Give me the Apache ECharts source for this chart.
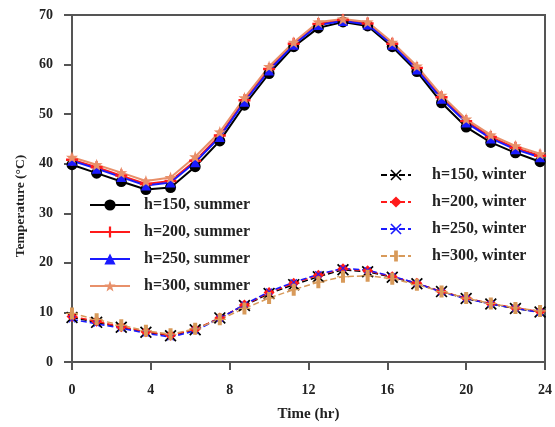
<!DOCTYPE html>
<html>
<head>
<meta charset="utf-8">
<script src="https://cdn.jsdelivr.net/npm/echarts@6/dist/echarts.min.js"></script>
<style>
  html, body { margin: 0; padding: 0; background: #fff; }
  #chart { width: 555px; height: 427px; }
</style>
</head>
<body>
<div id="chart"></div>
<script>
  const hours = [0, 1.25, 2.5, 3.75, 5, 6.25, 7.5, 8.75, 10, 11.25, 12.5, 13.75, 15, 16.25, 17.5, 18.75, 20, 21.25, 22.5, 23.75];

  const summer150 = [39.8, 38.1, 36.4, 34.8, 35.2, 39.4, 44.6, 51.8, 58.2, 63.6, 67.4, 68.6, 67.8, 63.6, 58.6, 52.3, 47.4, 44.3, 42.2, 40.4];
  const summer200 = [40.8, 39.3, 37.6, 35.9, 36.5, 40.6, 45.7, 52.8, 59.1, 64.2, 68.2, 69.0, 68.3, 64.2, 59.3, 53.4, 48.6, 45.4, 43.2, 41.6];
  const summer250 = [40.6, 39.0, 37.3, 35.6, 36.2, 40.3, 45.4, 52.5, 58.8, 64.0, 68.0, 68.8, 68.1, 64.0, 59.0, 53.1, 48.3, 45.1, 42.9, 41.3];
  const summer300 = [41.3, 39.8, 38.2, 36.5, 37.2, 41.4, 46.4, 53.3, 59.6, 64.5, 68.6, 69.2, 68.6, 64.5, 59.7, 53.8, 49.0, 45.8, 43.6, 42.0];

  const winter150 = [9.0, 8.0, 7.0, 6.0, 5.3, 6.5, 8.9, 11.4, 13.8, 15.6, 17.2, 18.6, 18.2, 17.1, 15.8, 14.2, 12.8, 11.7, 10.8, 10.1];
  const winter200 = [9.2, 8.2, 7.1, 6.1, 5.4, 6.6, 8.9, 11.5, 14.0, 15.9, 17.5, 18.8, 18.4, 17.2, 15.9, 14.2, 12.9, 11.8, 10.9, 10.2];
  const winter250 = [8.6, 7.7, 6.8, 5.8, 5.0, 6.3, 8.8, 11.6, 14.2, 16.1, 17.7, 18.9, 18.5, 17.3, 15.9, 14.1, 12.8, 11.7, 10.8, 10.0];
  const winter300 = [9.8, 8.6, 7.4, 6.3, 5.6, 6.7, 8.6, 10.8, 12.9, 14.6, 16.1, 17.2, 17.4, 16.8, 15.6, 14.2, 12.9, 11.8, 10.9, 10.3];

  const summerNames = ['h=150, summer', 'h=200, summer', 'h=250, summer', 'h=300, summer'];
  const winterNames = ['h=150, winter', 'h=200, winter', 'h=250, winter', 'h=300, winter'];

  const PLUS = 'path://M0,4H10V6H0Z M4,0H6V10H4Z';
  const CROSS = 'path://M1,0L5,4L9,0L10,1L6,5L10,9L9,10L5,6L1,10L0,9L4,5L0,1Z';
  const STAR = 'path://M5,0L6.2,3.5L10,3.6L7,5.9L8.1,9.6L5,7.4L1.9,9.6L3,5.9L0,3.6L3.8,3.5Z';
  const VBAR = 'path://M4,0H6V10H4Z M2,4.5H8V5.5H2Z';

  const serif = '"Liberation Serif", "DejaVu Serif", serif';

  function pairs(vals) {
    return hours.map((h, i) => [h, vals[i]]);
  }

  function line(name, vals, color, symbol, size, dashed, width) {
    return {
      name: name,
      type: 'line',
      data: pairs(vals),
      symbol: symbol,
      symbolSize: size,
      showAllSymbol: true,
      lineStyle: { color: color, width: width, type: dashed ? [6, 3] : 'solid' },
      itemStyle: { color: color, borderWidth: 0 },
      emphasis: { disabled: true },
      animation: false
    };
  }

  const chart = echarts.init(document.getElementById('chart'));
  chart.setOption({
    backgroundColor: '#fff',
    grid: {
      left: 72, right: 9, top: 15, bottom: 65,
      show: true, borderColor: '#555', borderWidth: 2
    },
    legend: [
      {
        data: summerNames,
        orient: 'vertical',
        left: 84, top: 192,
        itemWidth: 40, itemHeight: 14, itemGap: 11,
        textStyle: { fontFamily: serif, fontWeight: 'bold', fontSize: 16, color: '#222', padding: [0, 0, 0, 9] }
      },
      {
        data: winterNames,
        orient: 'vertical',
        left: 375, top: 162,
        itemWidth: 30, itemHeight: 14, itemGap: 11,
        textStyle: { fontFamily: serif, fontWeight: 'bold', fontSize: 16, color: '#222', padding: [0, 0, 0, 16] }
      }
    ],
    xAxis: {
      type: 'value', min: 0, max: 24, interval: 4,
      name: 'Time (hr)', nameLocation: 'middle', nameGap: 45,
      nameTextStyle: { fontFamily: serif, fontWeight: 'bold', fontSize: 15, color: '#222' },
      axisLine: { lineStyle: { color: '#555', width: 2 } },
      axisTick: { inside: false, length: 8, lineStyle: { color: '#555', width: 2 } },
      axisLabel: { fontFamily: serif, fontWeight: 'bold', fontSize: 14, color: '#222', margin: 21 },
      splitLine: { show: false }
    },
    yAxis: {
      type: 'value', min: 0, max: 70, interval: 10,
      axisLine: { show: true, lineStyle: { color: '#555', width: 2 } },
      axisTick: { show: true, inside: false, length: 8, lineStyle: { color: '#555', width: 2 } },
      axisLabel: { fontFamily: serif, fontWeight: 'bold', fontSize: 14, color: '#222', margin: 19 },
      splitLine: { show: false }
    },
    graphic: [
      {
        type: 'text',
        x: 21, y: 206,
        rotation: Math.PI / 2,
        style: {
          text: 'Temperature (°C)',
          font: 'bold 13.5px ' + serif,
          fill: '#222',
          align: 'center',
          verticalAlign: 'middle'
        }
      }
    ],
    series: [
      line(summerNames[0], summer150, '#000000', 'circle', 11, false, 2),
      line(summerNames[1], summer200, '#ff1a1a', PLUS, 12, false, 2),
      line(summerNames[2], summer250, '#1a1aff', 'triangle', 10, false, 2),
      line(summerNames[3], summer300, '#e8906a', STAR, 12, false, 2),
      line(winterNames[0], winter150, '#000000', CROSS, 12, true, 1.5),
      line(winterNames[1], winter200, '#ff1a1a', 'diamond', 11, true, 1.5),
      line(winterNames[2], winter250, '#1a1aff', CROSS, 7, true, 1.5),
      line(winterNames[3], winter300, '#d89a5a', VBAR, 12, true, 1.5)
    ]
  });
</script>
</body>
</html>
